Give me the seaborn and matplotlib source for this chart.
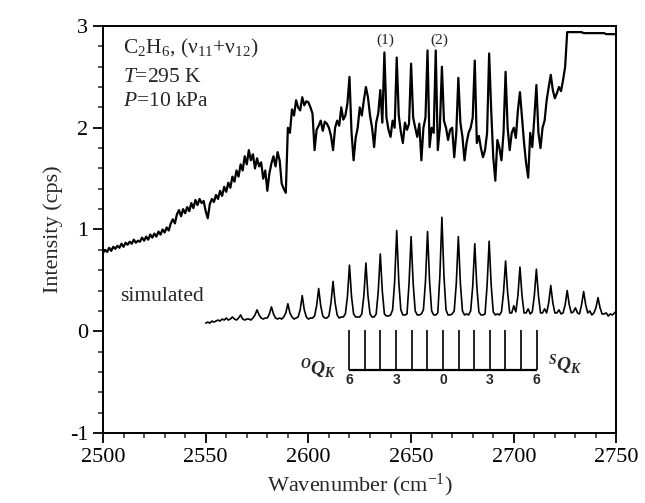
import numpy as np
import pandas as pd
import matplotlib
matplotlib.use("Agg")
import matplotlib.pyplot as plt
import seaborn as sns

# ---------------- data ----------------
exp_start = 2500  # cm-1, 1 cm-1 sampling
exp_intensity = [
    0.77, 0.80, 0.78, 0.82, 0.79, 0.83, 0.81, 0.84, 0.82, 0.86,   # 2500
    0.83, 0.87, 0.85, 0.88, 0.86, 0.90, 0.87, 0.89, 0.88, 0.92,   # 2510
    0.89, 0.93, 0.90, 0.95, 0.92, 0.96, 0.93, 0.98, 0.95, 1.00,   # 2520
    0.97, 1.02, 0.99, 1.06, 1.10, 1.06, 1.15, 1.19, 1.13, 1.20,   # 2530
    1.16, 1.22, 1.18, 1.26, 1.21, 1.29, 1.24, 1.30, 1.26, 1.28,   # 2540
    1.18, 1.11, 1.25, 1.30, 1.27, 1.34, 1.30, 1.38, 1.33, 1.42,   # 2550
    1.37, 1.46, 1.41, 1.52, 1.47, 1.58, 1.52, 1.64, 1.58, 1.72,   # 2560
    1.64, 1.78, 1.68, 1.74, 1.60, 1.70, 1.62, 1.66, 1.50, 1.58,   # 2570
    1.38, 1.55, 1.65, 1.72, 1.62, 1.76, 1.68, 1.45, 1.40, 1.36,   # 2580
    2.00, 1.95, 2.18, 2.12, 2.27, 2.20, 2.17, 2.30, 2.22, 2.26,   # 2590
    2.25, 2.20, 2.14, 1.78, 1.98, 2.02, 2.07, 1.97, 2.06, 2.04,   # 2600
    2.00, 1.92, 1.78, 2.00, 2.07, 2.02, 2.20, 2.08, 2.12, 2.24,   # 2610
    2.50, 1.95, 1.68, 1.90, 2.00, 2.20, 2.12, 2.27, 2.40, 2.30,   # 2620
    2.12, 2.00, 1.81, 2.05, 2.14, 2.37, 2.05, 2.74, 2.10, 1.98,   # 2630
    1.91, 2.07, 2.00, 2.69, 2.12, 1.96, 1.85, 2.05, 1.98, 2.04,   # 2640
    2.63, 2.10, 2.00, 1.91, 2.04, 1.68, 2.00, 2.10, 2.76, 1.81,   # 2650
    2.00, 1.95, 2.76, 1.78, 2.00, 2.60, 2.07, 2.00, 1.88, 1.98,   # 2660
    2.00, 1.71, 1.95, 2.49, 2.05, 1.91, 1.68, 1.85, 1.95, 2.00,   # 2670
    2.10, 2.66, 1.85, 1.92, 1.80, 1.71, 1.78, 1.95, 2.73, 2.17,   # 2680
    1.71, 1.48, 1.88, 1.80, 1.68, 1.95, 2.55, 2.00, 1.78, 1.95,   # 2690
    2.00, 1.90, 2.17, 2.35, 2.10, 1.85, 1.65, 1.51, 1.95, 1.81,   # 2700
    2.10, 2.42, 1.95, 1.80, 2.00, 2.07, 2.27, 2.40, 2.52, 2.37,   # 2710
    2.29, 2.34, 2.40, 2.36, 2.47, 2.60, 2.94, 2.94, 2.94, 2.94,   # 2720
    2.94, 2.94, 2.94, 2.94, 2.93, 2.93, 2.93, 2.93, 2.93, 2.93,   # 2730
    2.93, 2.93, 2.93, 2.93, 2.93, 2.92, 2.92, 2.92, 2.92, 2.92,   # 2740
    2.92,                                                         # 2750
]

sim_start = 2550  # cm-1, 1 cm-1 sampling
sim_intensity = [
    0.08, 0.09, 0.08, 0.10, 0.09, 0.10, 0.11, 0.10, 0.12, 0.11,   # 2550
    0.13, 0.11, 0.12, 0.14, 0.12, 0.11, 0.13, 0.16, 0.12, 0.11,   # 2560
    0.12, 0.12, 0.11, 0.13, 0.16, 0.21, 0.16, 0.13, 0.12, 0.13,   # 2570
    0.13, 0.17, 0.24, 0.17, 0.13, 0.12, 0.13, 0.12, 0.14, 0.18,   # 2580
    0.27, 0.18, 0.14, 0.12, 0.13, 0.14, 0.21, 0.35, 0.21, 0.14,   # 2590
    0.12, 0.13, 0.13, 0.15, 0.25, 0.42, 0.25, 0.15, 0.13, 0.13,   # 2600
    0.15, 0.28, 0.49, 0.28, 0.16, 0.13, 0.14, 0.14, 0.17, 0.34,   # 2610
    0.65, 0.34, 0.17, 0.14, 0.14, 0.14, 0.17, 0.35, 0.67, 0.35,   # 2620
    0.17, 0.14, 0.14, 0.17, 0.39, 0.76, 0.39, 0.17, 0.15, 0.15,   # 2630
    0.16, 0.21, 0.49, 0.99, 0.49, 0.21, 0.16, 0.16, 0.17, 0.47,   # 2640
    0.93, 0.47, 0.20, 0.16, 0.16, 0.17, 0.21, 0.49, 0.98, 0.49,   # 2650
    0.20, 0.16, 0.16, 0.18, 0.54, 1.12, 0.54, 0.21, 0.16, 0.16,   # 2660
    0.17, 0.20, 0.47, 0.93, 0.47, 0.20, 0.16, 0.17, 0.16, 0.20,   # 2670
    0.44, 0.86, 0.44, 0.19, 0.16, 0.16, 0.17, 0.45, 0.885, 0.45,  # 2680
    0.19, 0.16, 0.17, 0.16, 0.19, 0.38, 0.69, 0.38, 0.18, 0.18,   # 2690
    0.25, 0.19, 0.35, 0.63, 0.35, 0.18, 0.18, 0.22, 0.17, 0.19,   # 2700
    0.35, 0.61, 0.35, 0.18, 0.18, 0.22, 0.18, 0.28, 0.45, 0.28,   # 2710
    0.18, 0.18, 0.21, 0.17, 0.18, 0.26, 0.40, 0.26, 0.18, 0.19,   # 2720
    0.23, 0.18, 0.17, 0.26, 0.39, 0.26, 0.18, 0.20, 0.16, 0.18,   # 2730
    0.23, 0.33, 0.23, 0.17, 0.17, 0.18, 0.15, 0.17, 0.16, 0.18,   # 2740
    0.20,                                                         # 2750
]

# stick diagram (Q_K sub-band origins)
stick_pos = [2619.9, 2627.5, 2635.1, 2642.7, 2650.3, 2657.9, 2665.5,
             2673.1, 2680.7, 2688.3, 2695.9, 2703.5, 2711.1]
stick_top = 0.01
stick_base = -0.38
stick_labels = {0: "6", 3: "3", 6: "0", 9: "3", 12: "6"}

marker_pos = [2637.3, 2663.6]
marker_text = ["(1)", "(2)"]

x_ticks = [2500, 2550, 2600, 2650, 2700, 2750]
y_ticks = [-1, 0, 1, 2, 3]

exp_df = pd.DataFrame({"wn": np.arange(exp_start, exp_start + len(exp_intensity)),
                       "I": exp_intensity})
sim_df = pd.DataFrame({"wn": np.arange(sim_start, sim_start + len(sim_intensity)),
                       "I": sim_intensity})

# ---------------- style ----------------
sns.set_theme(style="ticks")
plt.rcParams["font.family"] = ["Liberation Serif", "DejaVu Serif"]
plt.rcParams["mathtext.fontset"] = "custom"
plt.rcParams["mathtext.rm"] = "Liberation Serif"
plt.rcParams["mathtext.it"] = "Liberation Serif:italic"
plt.rcParams["mathtext.bf"] = "Liberation Serif:bold"
plt.rcParams["mathtext.bfit"] = "Liberation Serif:bold:italic"
plt.rcParams["axes.unicode_minus"] = False

fig = plt.figure(figsize=(6.45, 5.03), dpi=100)
ax = fig.add_axes([0.1597, 0.1392, 0.7961, 0.8091])

sns.lineplot(data=exp_df, x="wn", y="I", ax=ax, color="black", linewidth=1.6)
sns.lineplot(data=sim_df, x="wn", y="I", ax=ax, color="black", linewidth=1.2)

ax.vlines(stick_pos, stick_base, stick_top, color="black", linewidth=1.2)
ax.hlines(stick_base, stick_pos[0], stick_pos[-1], color="black", linewidth=1.6)
for i, lab in stick_labels.items():
    ax.text(stick_pos[i], stick_base - 0.035, lab, ha="center", va="top",
            fontsize=10, fontweight="bold", family=["Liberation Sans", "DejaVu Sans"])

ax.text(2596, -0.37, r"${}^{\mathbfit{O}}\mathbfit{Q}_{\mathbfit{K}}$", ha="left",
        va="center", fontsize=14)
ax.text(2716.5, -0.33, r"${}^{\mathbfit{S}}\mathbfit{Q}_{\mathbfit{K}}$", ha="left",
        va="center", fontsize=14)

for xp, t in zip(marker_pos, marker_text):
    ax.text(xp, 2.86, t, ha="center", va="center", fontsize=11)

ax.text(2509.9, 2.73, r"C$_2$H$_6$, (ν$_{11}$+ν$_{12}$)", ha="left", va="baseline", fontsize=15.5)
ax.text(2509.9, 2.45, r"$T$=295 K", ha="left", va="baseline", fontsize=15.5)
ax.text(2509.9, 2.21, r"$P$=10 kPa", ha="left", va="baseline", fontsize=15.5)
ax.text(2508.3, 0.30, "simulated", ha="left", va="baseline", fontsize=15.5)

ax.set_xlim(2500, 2750)
ax.set_ylim(-1, 3)
ax.set_xticks(x_ticks)
ax.set_yticks(y_ticks)
ax.set_xticks(np.arange(2500, 2751, 10), minor=True)
ax.set_yticks(np.arange(-1, 3.01, 0.2), minor=True)
ax.tick_params(which="major", direction="out", length=7, width=1.3, labelsize=16,
               colors="black", top=False, right=False)
ax.tick_params(which="minor", direction="out", length=3.5, width=1.1, top=False, right=False)
for s in ax.spines.values():
    s.set_visible(True)
    s.set_linewidth(1.4)
    s.set_color("black")

ax.set_xlabel("Wavenumber (cm$^{-1}$)", fontsize=16, labelpad=4)
ax.set_ylabel("Intensity (cps)", fontsize=16, labelpad=5)

fig.savefig("out.png", dpi=100)
